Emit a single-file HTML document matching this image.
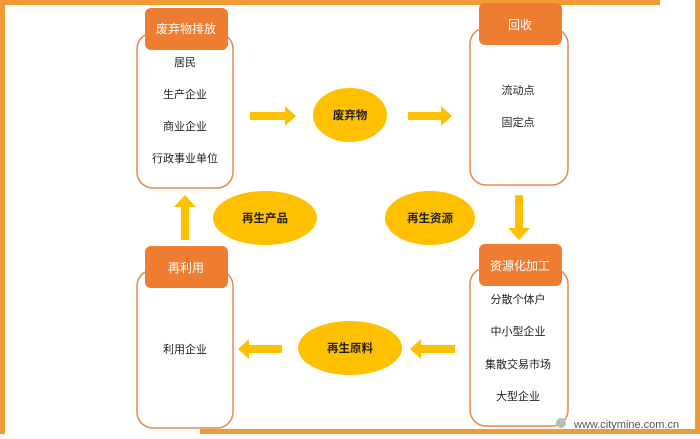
<!DOCTYPE html>
<html><head><meta charset="utf-8"><style>
body{margin:0;width:700px;height:434px;overflow:hidden;background:#fff;font-family:"Liberation Sans","Noto Sans CJK SC",sans-serif;}
</style></head><body>
<svg width="700" height="434" xmlns="http://www.w3.org/2000/svg" font-family="Liberation Sans, Noto Sans CJK SC, sans-serif">
<rect x="0" y="0" width="5" height="434" fill="#f29a36"/>
<rect x="0" y="0" width="660" height="5" fill="#f29a36"/>
<rect x="695" y="0" width="5" height="434" fill="#f29a36"/>
<rect x="200" y="429" width="500" height="5" fill="#f29a36"/>
<g fill="#fff" stroke="#e8874a" stroke-width="1.5">
<rect x="137" y="33" width="96" height="155" rx="16"/>
<rect x="470" y="28" width="98" height="157" rx="16"/>
<rect x="470" y="268" width="98" height="158" rx="16"/>
<rect x="137" y="270" width="96" height="158" rx="16"/>
</g>
<g fill="#ee7d31">
<rect x="145" y="8" width="83" height="42" rx="6"/>
<rect x="479" y="3" width="83" height="42" rx="6"/>
<rect x="479" y="244" width="83" height="42" rx="6"/>
<rect x="145" y="246" width="83" height="42" rx="6"/>
</g>
<g fill="#fff" font-size="12" text-anchor="middle">
<text x="186" y="33">废弃物排放</text>
<text x="520" y="29">回收</text>
<text x="520" y="270">资源化加工</text>
<text x="186" y="272">再利用</text>
</g>
<g fill="#ffc000">
<ellipse cx="350" cy="115" rx="37" ry="27"/>
<ellipse cx="265" cy="218" rx="52" ry="27"/>
<ellipse cx="430" cy="218" rx="45" ry="27"/>
<ellipse cx="350" cy="348" rx="52" ry="27"/>
<polygon points="250,112 285,112 285,106 296,116 285,126 285,120 250,120"/>
<polygon points="408,112 441,112 441,106 452,116 441,126 441,120 408,120"/>
<polygon points="515,195 523,195 523,228 530,228 519,240 508,228 515,228"/>
<polygon points="189,240 181,240 181,207 174,207 185,195 196,207 189,207"/>
<polygon points="282,345 249,345 249,339 238,349 249,359 249,353 282,353"/>
<polygon points="455,345 421,345 421,339 410,349 421,359 421,353 455,353"/>
</g>
<g fill="#222" font-size="11.5" text-anchor="middle" font-weight="bold">
<text x="350" y="119">废弃物</text>
<text x="265" y="222">再生产品</text>
<text x="430" y="222">再生资源</text>
<text x="350" y="352">再生原料</text>
</g>
<g fill="#222" font-size="11" text-anchor="middle">
<text x="185" y="66">居民</text>
<text x="185" y="98">生产企业</text>
<text x="185" y="130">商业企业</text>
<text x="185" y="162">行政事业单位</text>
<text x="518" y="94">流动点</text>
<text x="518" y="126">固定点</text>
<text x="518" y="303">分散个体户</text>
<text x="518" y="335">中小型企业</text>
<text x="518" y="368">集散交易市场</text>
<text x="518" y="400">大型企业</text>
<text x="185" y="353">利用企业</text>
</g>
<circle cx="561" cy="423" r="5" fill="#bbb"/>
<text x="574" y="428" font-size="11" fill="#555">www.citymine.com.cn</text>
</svg>
</body></html>
